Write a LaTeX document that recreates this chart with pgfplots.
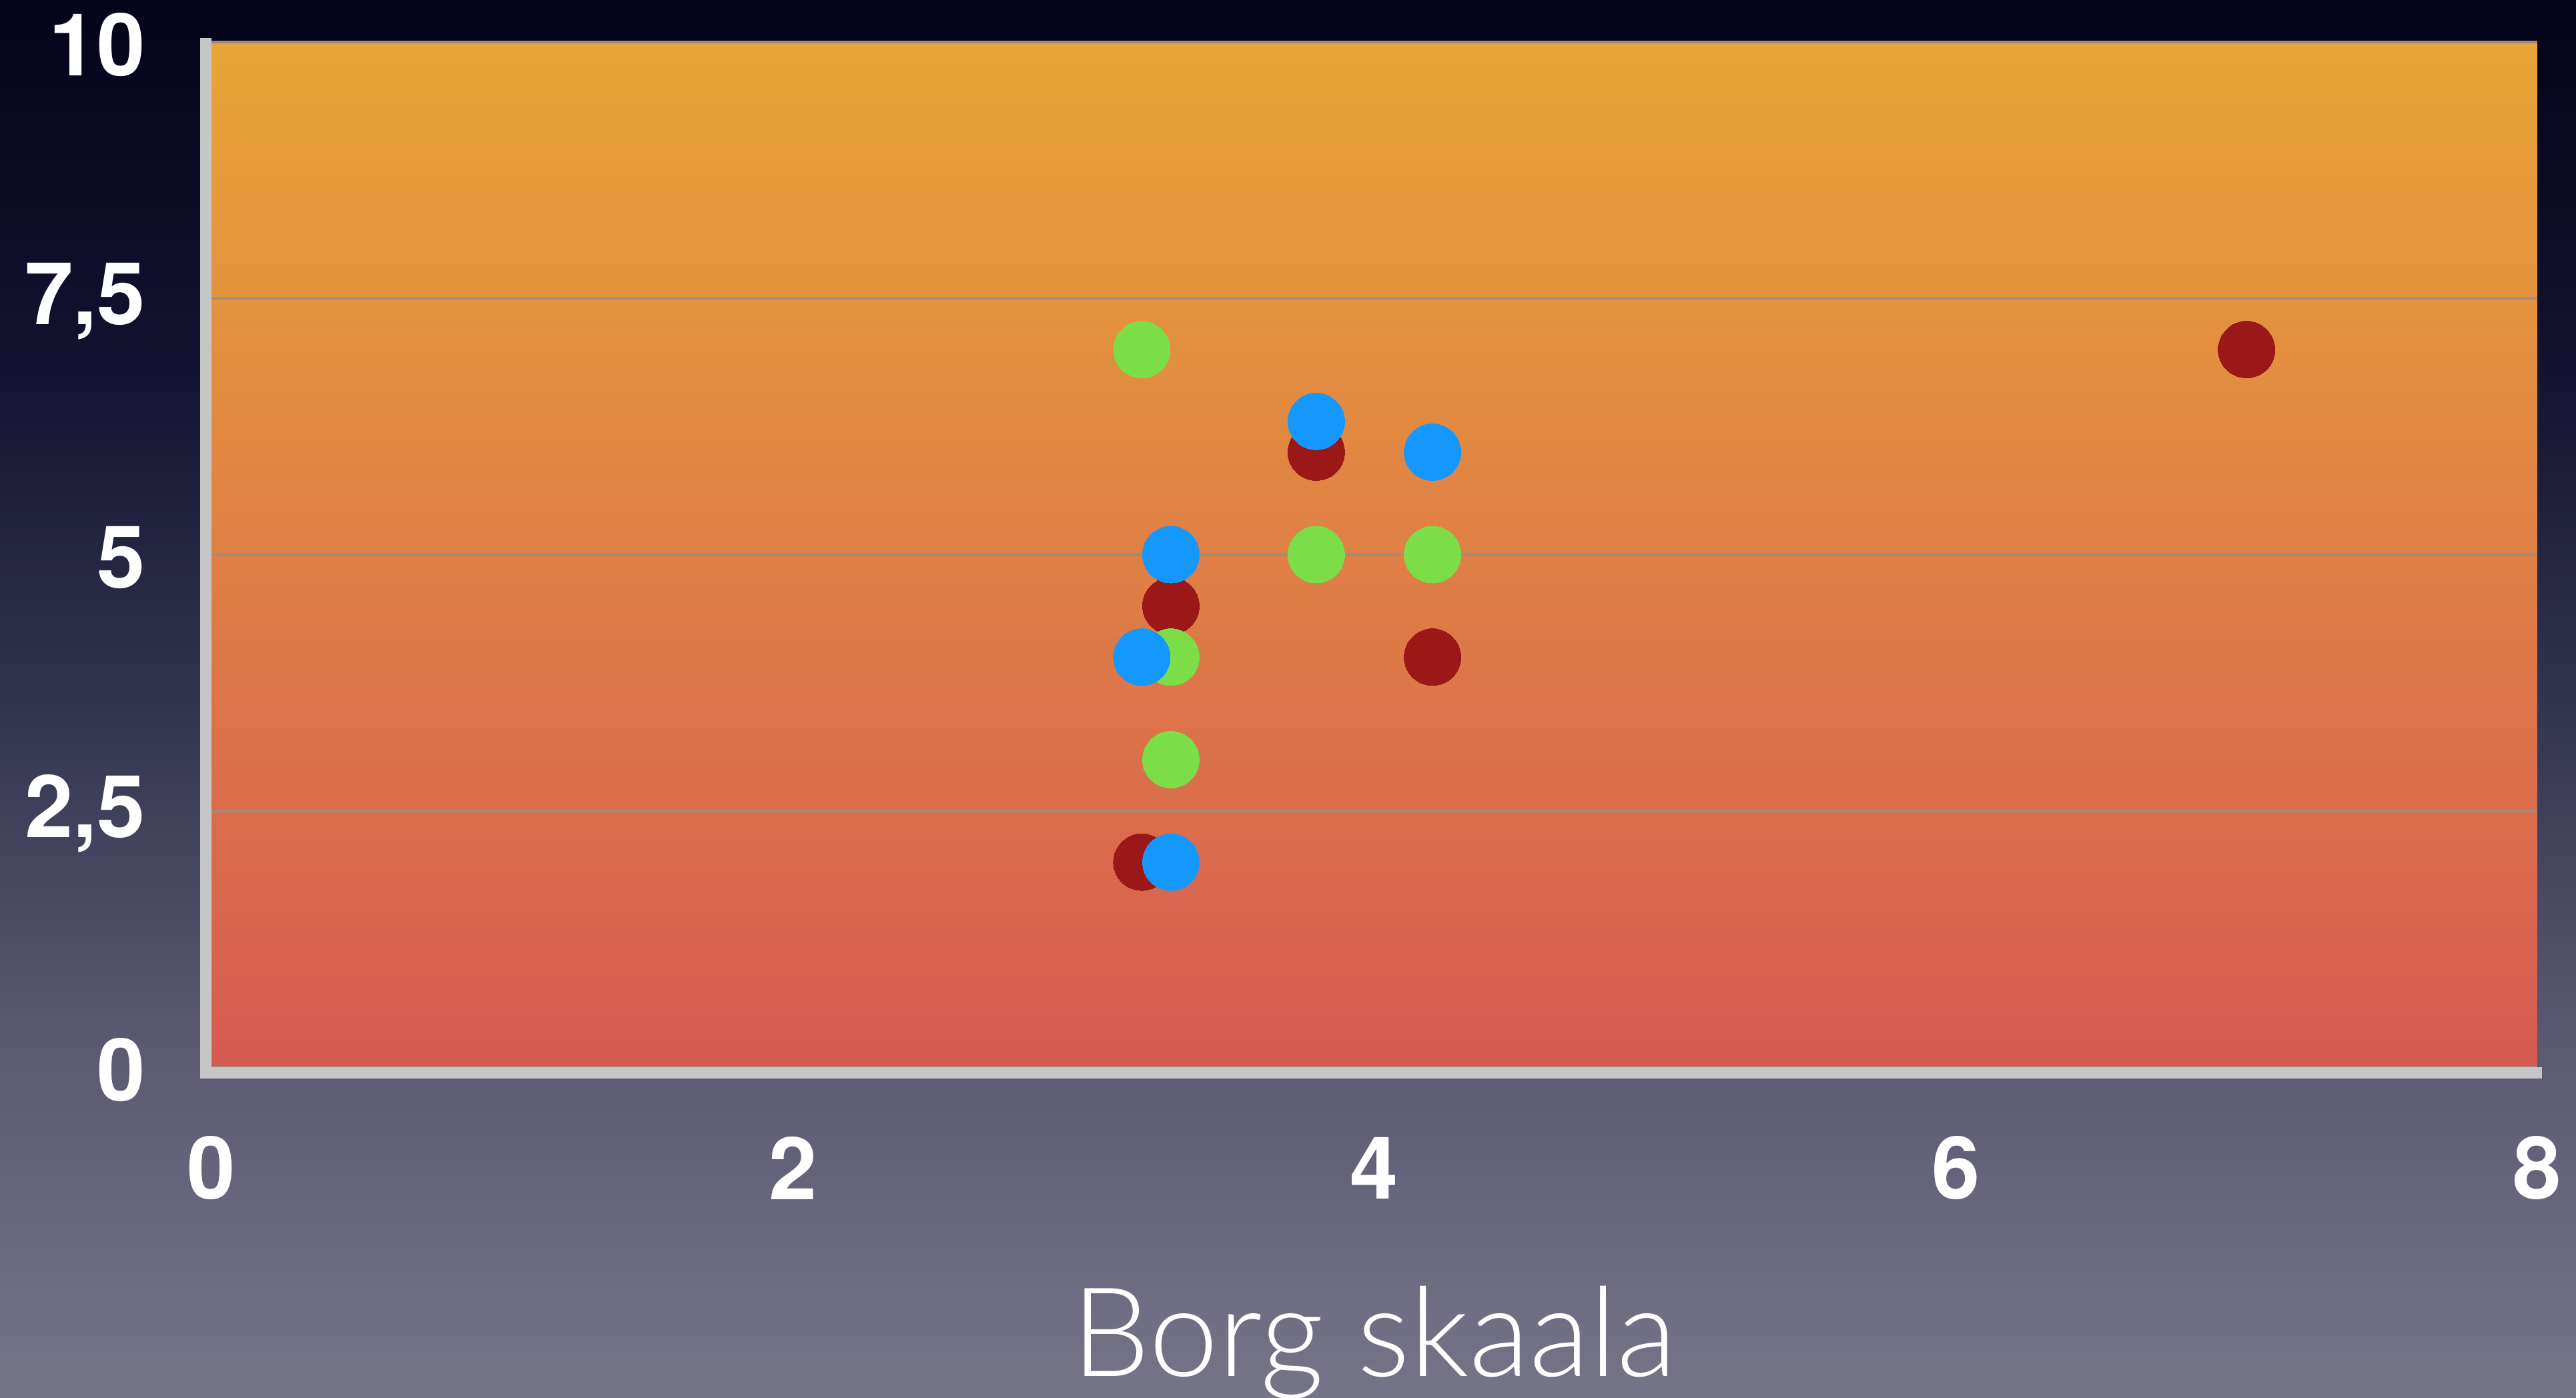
\documentclass[border=0pt]{standalone}
\usepackage{pgfplots}
\pgfplotsset{compat=1.18}
\usepackage{pgfplotstable}
\usepackage{fontspec}
\setmainfont{TeX Gyre Heros}
\newfontfamily\lightfont{Lato}[UprightFont=* Light]

% page background (dark navy at the top, grey-violet at the bottom)
\definecolor{bgtop}{HTML}{04041A}
\definecolor{bgq1}{HTML}{121230}
\definecolor{bgmid}{HTML}{32334F}
\definecolor{bgq3}{HTML}{5B5A72}
\definecolor{bgbot}{HTML}{767487}
% plot area
\definecolor{plottop}{HTML}{E8A537}
\definecolor{plotbot}{HTML}{D65A52}
\definecolor{gridc}{HTML}{A08A80}
\definecolor{axisgray}{HTML}{C6C6C6}
% series
\definecolor{sred}{HTML}{9A1818}
\definecolor{sgreen}{HTML}{7BDD48}
\definecolor{sblue}{HTML}{1598FD}

% TikZ stretches the 25bp--75bp band of a shading over the path
\pgfdeclareverticalshading{pagebg}{100bp}{%
  color(0bp)=(bgbot); color(25bp)=(bgbot); color(37.5bp)=(bgq3);
  color(50bp)=(bgmid); color(62.5bp)=(bgq1); color(75bp)=(bgtop);
  color(100bp)=(bgtop)}

\pgfplotstableread{
x y
3.2 2
3.3 4.5
3.8 6
4.2 4
7.0 7
}\redpts
\pgfplotstableread{
x y
3.2 7
3.3 4
3.3 3
3.8 5
4.2 5
}\greenpts
\pgfplotstableread{
x y
3.2 4
3.3 5
3.3 2
3.8 6.3
4.2 6
}\bluepts

\begin{document}
\begin{tikzpicture}
\path[use as bounding box] (0pt,0pt) rectangle (386.1pt,209.5pt);
\shade[shading=pagebg] (0pt,0pt) rectangle (386.1pt,209.5pt);
\begin{axis}[
  name=ax,
  at={(31.7pt,49.5pt)}, anchor=south west,
  scale only axis, width=348.6pt, height=153.7pt,
  xmin=0, xmax=8, ymin=0, ymax=10,
  axis background/.style={shade, top color=plottop, bottom color=plotbot},
  axis line style={draw=none},
  major tick length=0pt,
  xtick={0,2,4,6,8}, xticklabels={0,2,4,6,8},
  ytick={0,2.5,5,7.5,10}, yticklabels={0,{2,5},5,{7,5},10},
  ymajorgrids, grid style={gridc, line width=0.35pt},
  /pgf/number format/assume math mode=true,
  tick label style={font=\fontsize{13}{13}\selectfont\bfseries, text=white},
  xticklabel style={anchor=center, inner sep=0pt, yshift=-15.1pt},
  yticklabel style={anchor=east, inner sep=0pt, xshift=-9.7pt, yshift=-0.4pt},
  xlabel={Borg skaala},
  xlabel style={at={(axis description cs:0.5,0)}, anchor=base, yshift=-46.3pt,
    font=\lightfont\fontsize{18.6}{18.6}\selectfont, text=white},
  clip=false,
  dot/.style={only marks, mark=*, mark size=4.25pt, color=#1,
    mark options={draw=#1, fill=#1, line width=0pt}},
]
\addplot[dot=sred]   table {\redpts};
\addplot[dot=sgreen] table {\greenpts};
\addplot[dot=sblue]  table {\bluepts};
\end{axis}
% left and bottom axis lines
\draw[axisgray, line width=1.7pt, line join=miter]
  ([xshift=-0.85pt, yshift=0.6pt]ax.north west)
  -- ([xshift=-0.85pt, yshift=-0.85pt]ax.south west)
  -- ([xshift=0.7pt, yshift=-0.85pt]ax.south east);
\end{tikzpicture}
\end{document}
